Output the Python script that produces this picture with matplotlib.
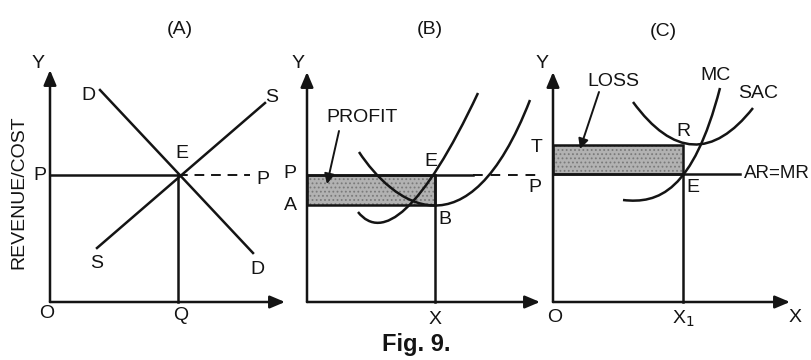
import matplotlib
matplotlib.use("Agg")
import matplotlib.pyplot as plt
from matplotlib.path import Path
from matplotlib.patches import PathPatch, Rectangle

plt.rcParams['font.family'] = ['Liberation Sans', 'DejaVu Sans']
plt.rcParams['hatch.linewidth'] = 0.8

W, H = 811, 360
INK = '#141414'
SHADE = '#b2b2b2'
LW = 1.8
FS = 14

# ---- panel A : demand & supply (units measured from origin O) ----
a_price = 127
a_qty = 128
a_demand_x = [50, 203]
a_demand_y = [212, 49]
a_supply_x = [47, 215]
a_supply_y = [54, 199]

# ---- panel B : profit ----
b_price = 127
b_ac_level = 97
b_qty = 128
b_mc_ctrl = [(51, 90), (75, 60), (115, 90), (171, 209)]      # cubic bezier
b_ac_ctrl = [(52, 150), (85, 100), (160, 40), (223, 202)]    # cubic bezier

# ---- panel C : loss ----
c_price = 128
c_cost = 157
c_qty = 130
c_mc_ctrl = [(70, 102), (105, 98), (140, 110), (167, 214)]   # cubic bezier
c_sac_ctrl = [(80, 200), (140, 118), (200, 194)]             # quadratic bezier


def panel(fig, ox, oy=302):
    # full-figure axes, pixel-sized units, origin at the panel's O
    ax = fig.add_axes([0, 0, 1, 1])
    ax.set_xlim(-ox, W - ox)
    ax.set_ylim(oy - H, oy)
    ax.axis('off')
    ax.patch.set_alpha(0)
    return ax


def axes_arrows(ax, xend, yend):
    style = dict(arrowstyle='-|>,head_length=0.9,head_width=0.38',
                 lw=LW, color=INK, shrinkA=0, shrinkB=0)
    ax.annotate('', xy=(xend, 0), xytext=(0, 0), arrowprops=style)
    ax.annotate('', xy=(0, yend), xytext=(0, 0), arrowprops=style)


def bezier(ax, pts):
    codes = [Path.MOVETO] + ([Path.CURVE4] * 3 if len(pts) == 4 else [Path.CURVE3] * 2)
    ax.add_patch(PathPatch(Path(pts, codes), fill=False, lw=LW, ec=INK))


def shaded(ax, x0, y0, w, h):
    ax.add_patch(Rectangle((x0, y0), w, h, fc=SHADE, ec='#7a7a7a', lw=0, hatch='....'))
    ax.add_patch(Rectangle((x0, y0), w, h, fill=False, ec=INK, lw=LW))


def lbl(ax, x, y, s, **kw):
    kw.setdefault('fontsize', FS)
    ax.text(x, y, s, ha='center', va='center', color=INK, **kw)


fig = plt.figure(figsize=(W / 100, H / 100), dpi=100)

# ---------- (A) ----------
ax = panel(fig, 50)
axes_arrows(ax, 235, 232)
ax.plot([0, a_qty], [a_price, a_price], color=INK, lw=LW)
ax.plot([a_qty, 200], [a_price, a_price], color=INK, lw=1.4, ls=(0, (5, 3.5)))
ax.plot([a_qty, a_qty], [0, a_price], color=INK, lw=LW)
ax.plot(a_demand_x, a_demand_y, color=INK, lw=LW)
ax.plot(a_supply_x, a_supply_y, color=INK, lw=LW)
lbl(ax, 130, 272, '(A)')
lbl(ax, -12, 238, 'Y')
lbl(ax, -10, 126, 'P')
lbl(ax, 213, 123, 'P')
lbl(ax, 132, 148, 'E')
lbl(ax, 38, 206, 'D')
lbl(ax, 207, 32, 'D')
lbl(ax, 47, 39, 'S')
lbl(ax, 222, 205, 'S')
lbl(ax, -3, -12, 'O')
lbl(ax, 131, -13, 'Q')
lbl(ax, -31, 110, 'REVENUE/COST', rotation=90)

# ---------- (B) ----------
ax = panel(fig, 307)
axes_arrows(ax, 233, 230)
shaded(ax, 0, b_ac_level, b_qty, b_price - b_ac_level)
ax.plot([0, 166], [b_price, b_price], color=INK, lw=LW)
ax.plot([166, 232], [b_price, b_price], color=INK, lw=1.4, ls=(0, (5, 4)))
ax.plot([b_qty, b_qty], [0, b_price], color=INK, lw=LW)
bezier(ax, b_mc_ctrl)
bezier(ax, b_ac_ctrl)
ax.annotate('', xy=(20, 118), xytext=(32, 171),
            arrowprops=dict(arrowstyle='-|>,head_length=0.6,head_width=0.3',
                            lw=1.4, color=INK, shrinkA=0, shrinkB=0))
lbl(ax, 55, 185, 'PROFIT')
lbl(ax, 123, 272, '(B)')
lbl(ax, -9, 239, 'Y')
lbl(ax, -17, 129, 'P')
lbl(ax, -17, 97, 'A')
lbl(ax, 124, 141, 'E')
lbl(ax, 138, 82, 'B')
lbl(ax, 128, -17, 'X')

# ---------- (C) ----------
ax = panel(fig, 553)
axes_arrows(ax, 237, 230)
shaded(ax, 0, c_price, c_qty, c_cost - c_price)
ax.plot([0, 187], [c_price, c_price], color=INK, lw=LW)
ax.plot([c_qty, c_qty], [0, c_price], color=INK, lw=LW)
bezier(ax, c_mc_ctrl)
bezier(ax, c_sac_ctrl)
ax.annotate('', xy=(27, 153), xytext=(46, 210),
            arrowprops=dict(arrowstyle='-|>,head_length=0.6,head_width=0.3',
                            lw=1.4, color=INK, shrinkA=0, shrinkB=0))
lbl(ax, 60, 220, 'LOSS')
lbl(ax, 110, 270, '(C)')
lbl(ax, -11, 239, 'Y')
lbl(ax, -16, 155, 'T')
lbl(ax, -18, 115, 'P')
lbl(ax, 130, 170, 'R')
lbl(ax, 140, 114, 'E')
lbl(ax, 162, 226, 'MC')
lbl(ax, 205, 209, 'SAC')
ax.text(191, c_price, 'AR=MR', ha='left', va='center', fontsize=13.5, color=INK)
lbl(ax, 2, -16, 'O')
lbl(ax, 130, -17, 'X$_1$')
lbl(ax, 242, -16, 'X')

fig.text(416 / W, 1 - 351 / H, 'Fig. 9.', ha='center', va='baseline',
         fontsize=17, fontweight='bold', color=INK)

fig.savefig('out.png', dpi=100)
